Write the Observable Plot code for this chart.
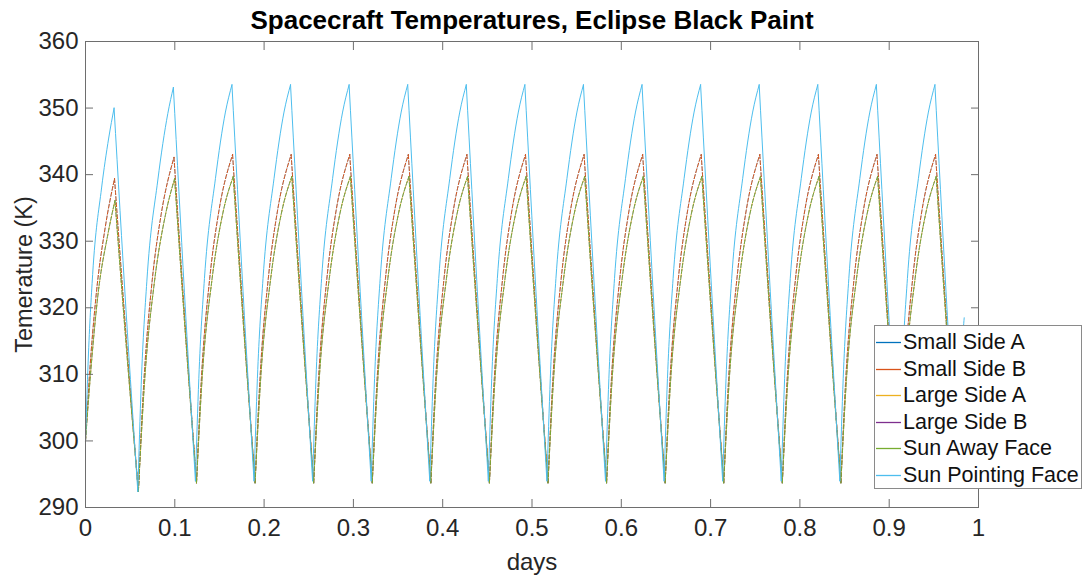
<!DOCTYPE html>
<html>
<head>
<meta charset="utf-8">
<script src="https://cdn.jsdelivr.net/npm/d3@7"></script>
<script src="https://cdn.jsdelivr.net/npm/@observablehq/plot@0.6"></script>
<style>
  body { margin: 0; background: #fff; }
  #wrap { position: relative; width: 1090px; height: 578px; font-family: "Liberation Sans", Arial, Helvetica, sans-serif; }
  #legend { position: absolute; left: 874px; top: 325px; width: 208px; height: 164px; background: #fff;
            border: 1px solid #8a8a8a; box-sizing: border-box; padding-top: 3px; }
  .row { position: relative; height: 26.6px; }
  .row svg { position: absolute; left: 0; top: 0; }
  .row .lb { position: absolute; left: 28px; top: 0; line-height: 26.6px; font-size: 21.5px; color: #111; white-space: nowrap; }
</style>
</head>
<body>
<div id="wrap"><div id="legend"></div></div>
<script>
// ---- data (days, K) ----
const title = "Spacecraft Temperatures, Eclipse Black Paint";
const xLabel = "days";
const yLabel = "Temerature (K)";
const xTicks = [0, 0.1, 0.2, 0.3, 0.4, 0.5, 0.6, 0.7, 0.8, 0.9, 1];
const yTicks = [290, 300, 310, 320, 330, 340, 350, 360];
const seriesNames = ["Small Side A", "Small Side B", "Large Side A", "Large Side B", "Sun Away Face", "Sun Pointing Face"];
const seriesColors = ["#0072BD", "#D95319", "#EDB120", "#7E2F8E", "#77AC30", "#4DBEEE"];

const sunPointingFace = [
  [0.0000,300.0],[0.0030,312.0],[0.0080,325.0],[0.0180,338.0],[0.0260,345.5],[0.0320,350.0],[0.0453,319.8],[0.0586,292.4],
  [0.0624,308.5],[0.0687,324.0],[0.0810,339.2],[0.0922,349.2],[0.0984,353.1],[0.1108,322.3],[0.1231,294.0],
  [0.1269,309.4],[0.1332,324.4],[0.1455,339.4],[0.1567,349.4],[0.1640,353.5],[0.1764,322.5],[0.1887,294.0],
  [0.1925,309.4],[0.1988,324.4],[0.2111,339.4],[0.2223,349.4],[0.2296,353.5],[0.2420,322.5],[0.2543,294.0],
  [0.2581,309.4],[0.2644,324.4],[0.2767,339.4],[0.2879,349.4],[0.2952,353.5],[0.3076,322.5],[0.3199,294.0],
  [0.3237,309.4],[0.3300,324.4],[0.3423,339.4],[0.3535,349.4],[0.3608,353.5],[0.3732,322.5],[0.3855,294.0],
  [0.3893,309.4],[0.3956,324.4],[0.4079,339.4],[0.4191,349.4],[0.4264,353.5],[0.4388,322.5],[0.4511,294.0],
  [0.4549,309.4],[0.4612,324.4],[0.4735,339.4],[0.4847,349.4],[0.4920,353.5],[0.5044,322.5],[0.5167,294.0],
  [0.5205,309.4],[0.5268,324.4],[0.5391,339.4],[0.5503,349.4],[0.5576,353.5],[0.5700,322.5],[0.5823,294.0],
  [0.5861,309.4],[0.5924,324.4],[0.6047,339.4],[0.6159,349.4],[0.6232,353.5],[0.6356,322.5],[0.6479,294.0],
  [0.6517,309.4],[0.6580,324.4],[0.6703,339.4],[0.6815,349.4],[0.6888,353.5],[0.7012,322.5],[0.7135,294.0],
  [0.7173,309.4],[0.7236,324.4],[0.7359,339.4],[0.7471,349.4],[0.7544,353.5],[0.7668,322.5],[0.7791,294.0],
  [0.7829,309.4],[0.7892,324.4],[0.8015,339.4],[0.8127,349.4],[0.8200,353.5],[0.8324,322.5],[0.8447,294.0],
  [0.8485,309.4],[0.8548,324.4],[0.8671,339.4],[0.8783,349.4],[0.8856,353.5],[0.8980,322.5],[0.9103,294.0],
  [0.9141,309.4],[0.9204,324.4],[0.9327,339.4],[0.9439,349.4],[0.9512,353.5],[0.9636,322.5],[0.9759,294.0],
  [0.9797,309.4],[0.9840,318.5]
];

const smallSideB = [
  [0.0000,300.0],[0.0040,309.0],[0.0120,322.0],[0.0220,332.0],[0.0325,339.4],[0.0459,315.0],[0.0592,292.4],
  [0.0653,308.8],[0.0746,324.0],[0.0847,334.0],[0.0991,342.6],[0.1117,317.3],[0.1243,293.7],
  [0.1298,309.4],[0.1391,324.4],[0.1492,334.4],[0.1647,343.0],[0.1773,317.5],[0.1899,293.7],
  [0.1954,309.4],[0.2047,324.4],[0.2148,334.4],[0.2303,343.0],[0.2429,317.5],[0.2555,293.7],
  [0.2610,309.4],[0.2703,324.4],[0.2804,334.4],[0.2959,343.0],[0.3085,317.5],[0.3211,293.7],
  [0.3266,309.4],[0.3359,324.4],[0.3460,334.4],[0.3615,343.0],[0.3741,317.5],[0.3867,293.7],
  [0.3922,309.4],[0.4015,324.4],[0.4116,334.4],[0.4271,343.0],[0.4397,317.5],[0.4523,293.7],
  [0.4578,309.4],[0.4671,324.4],[0.4772,334.4],[0.4927,343.0],[0.5053,317.5],[0.5179,293.7],
  [0.5234,309.4],[0.5327,324.4],[0.5428,334.4],[0.5583,343.0],[0.5709,317.5],[0.5835,293.7],
  [0.5890,309.4],[0.5983,324.4],[0.6084,334.4],[0.6239,343.0],[0.6365,317.5],[0.6491,293.7],
  [0.6546,309.4],[0.6639,324.4],[0.6740,334.4],[0.6895,343.0],[0.7021,317.5],[0.7147,293.7],
  [0.7202,309.4],[0.7295,324.4],[0.7396,334.4],[0.7551,343.0],[0.7677,317.5],[0.7803,293.7],
  [0.7858,309.4],[0.7951,324.4],[0.8052,334.4],[0.8207,343.0],[0.8333,317.5],[0.8459,293.7],
  [0.8514,309.4],[0.8607,324.4],[0.8708,334.4],[0.8863,343.0],[0.8989,317.5],[0.9115,293.7],
  [0.9170,309.4],[0.9263,324.4],[0.9364,334.4],[0.9519,343.0],[0.9645,317.5],[0.9771,293.7],
  [0.9826,309.4],[0.9840,312.0]
];
// Small Side A lies exactly under Small Side B in the picture
const smallSideA = smallSideB;

const sunAwayFace = [
  [0.0000,300.0],[0.0050,309.0],[0.0140,322.0],[0.0250,331.0],[0.0330,336.1],[0.0461,313.5],[0.0592,292.4],
  [0.0661,308.8],[0.0773,324.0],[0.0896,334.0],[0.0998,339.4],[0.1120,315.8],[0.1243,293.7],
  [0.1306,309.4],[0.1418,324.4],[0.1541,334.4],[0.1654,339.7],[0.1776,316.0],[0.1899,293.7],
  [0.1962,309.4],[0.2074,324.4],[0.2197,334.4],[0.2310,339.7],[0.2432,316.0],[0.2555,293.7],
  [0.2618,309.4],[0.2730,324.4],[0.2853,334.4],[0.2966,339.7],[0.3088,316.0],[0.3211,293.7],
  [0.3274,309.4],[0.3386,324.4],[0.3509,334.4],[0.3622,339.7],[0.3744,316.0],[0.3867,293.7],
  [0.3930,309.4],[0.4042,324.4],[0.4165,334.4],[0.4278,339.7],[0.4400,316.0],[0.4523,293.7],
  [0.4586,309.4],[0.4698,324.4],[0.4821,334.4],[0.4934,339.7],[0.5056,316.0],[0.5179,293.7],
  [0.5242,309.4],[0.5354,324.4],[0.5477,334.4],[0.5590,339.7],[0.5712,316.0],[0.5835,293.7],
  [0.5898,309.4],[0.6010,324.4],[0.6133,334.4],[0.6246,339.7],[0.6368,316.0],[0.6491,293.7],
  [0.6554,309.4],[0.6666,324.4],[0.6789,334.4],[0.6902,339.7],[0.7024,316.0],[0.7147,293.7],
  [0.7210,309.4],[0.7322,324.4],[0.7445,334.4],[0.7558,339.7],[0.7680,316.0],[0.7803,293.7],
  [0.7866,309.4],[0.7978,324.4],[0.8101,334.4],[0.8214,339.7],[0.8336,316.0],[0.8459,293.7],
  [0.8522,309.4],[0.8634,324.4],[0.8757,334.4],[0.8870,339.7],[0.8992,316.0],[0.9115,293.7],
  [0.9178,309.4],[0.9290,324.4],[0.9413,334.4],[0.9526,339.7],[0.9648,316.0],[0.9771,293.7],
  [0.9834,309.4],[0.9840,310.5]
];
// Large Side A and B coincide with the Sun Away Face in the picture
const largeSideA = sunAwayFace;
const largeSideB = sunAwayFace;

const seriesData = [smallSideA, smallSideB, largeSideA, largeSideB, sunAwayFace, sunPointingFace];
const seriesDash = ["4,2", "4,2", "2,4", "4,2", "4,2", null];
const seriesDashOffset = [0, 0, 3, 0, 0, 0];
const seriesWidth = [0.5, 1, 0.8, 0.5, 1, 1];

// split each trace at its turning points so every rise / fall is drawn as its own smooth run
function runs(data) {
  const rows = [];
  let seg = 0, dir = null;
  for (let i = 0; i < data.length; i++) {
    if (i > 0) {
      const d = Math.sign(data[i][1] - data[i - 1][1]);
      if (dir !== null && d !== dir) { seg++; rows.push({x: data[i - 1][0], y: data[i - 1][1], seg}); }
      dir = d;
    }
    rows.push({x: data[i][0], y: data[i][1], seg});
  }
  return rows;
}

// ---- chart ----
const FONT = "'Liberation Sans', Arial, Helvetica, sans-serif";
const AX = "#6e6e6e";
const lineMarks = seriesData.map((data, i) => Plot.line(runs(data), {
  x: "x", y: "y", z: "seg", curve: "monotone-x",
  stroke: seriesColors[i], strokeWidth: seriesWidth[i],
  strokeDasharray: seriesDash[i], strokeDashoffset: seriesDashOffset[i]
}));

const chart = Plot.plot({
  width: 1090, height: 578,
  marginLeft: 85, marginRight: 112, marginTop: 41, marginBottom: 71,
  x: {domain: [0, 1]},
  y: {domain: [290, 360]},
  style: {fontFamily: FONT, fontSize: "24px", color: "#262626", background: "transparent", overflow: "visible"},
  marks: [
    ...lineMarks,
    Plot.frame({stroke: AX, strokeWidth: 1}),
    Plot.axisX(xTicks, {anchor: "bottom", tickSize: 0, tickPadding: 11, tickFormat: d => String(d), label: null, fontSize: 24, fill: "#262626"}),
    Plot.axisX(xTicks, {anchor: "bottom", tickSize: -8, tickFormat: () => "", label: null, stroke: AX}),
    Plot.axisX(xTicks, {anchor: "top", tickSize: -8, tickFormat: () => "", label: null, stroke: AX}),
    Plot.axisY(yTicks, {anchor: "left", tickSize: 0, tickPadding: 7, tickFormat: d => String(d), label: null, fontSize: 24, fill: "#262626"}),
    Plot.axisY(yTicks, {anchor: "left", tickSize: -8, tickFormat: () => "", label: null, stroke: AX}),
    Plot.axisY(yTicks, {anchor: "right", tickSize: -8, tickFormat: () => "", label: null, stroke: AX}),
    Plot.text([xLabel], {frameAnchor: "bottom", textAnchor: "middle", lineAnchor: "middle", dy: 55, fontSize: 24, fill: "#262626"}),
    Plot.text([yLabel], {frameAnchor: "left", textAnchor: "middle", lineAnchor: "middle", rotate: -90, dx: -61, fontSize: 23.5, fill: "#262626"}),
    Plot.text([title], {frameAnchor: "top", textAnchor: "middle", lineAnchor: "middle", dy: -21, fontSize: 26, fontWeight: "bold", fill: "#000"})
  ]
});

const wrap = document.getElementById("wrap");
wrap.insertBefore(chart, wrap.firstChild);

// legend
const legend = d3.select("#legend");
seriesNames.forEach((name, i) => {
  const row = legend.append("div").attr("class", "row");
  row.append("svg").attr("width", 28).attr("height", 27)
    .append("line").attr("x1", 1).attr("x2", 26).attr("y1", 13.5).attr("y2", 13.5)
    .attr("stroke", seriesColors[i]).attr("stroke-width", 1.3);
  row.append("div").attr("class", "lb").text(name);
});
</script>
</body>
</html>
